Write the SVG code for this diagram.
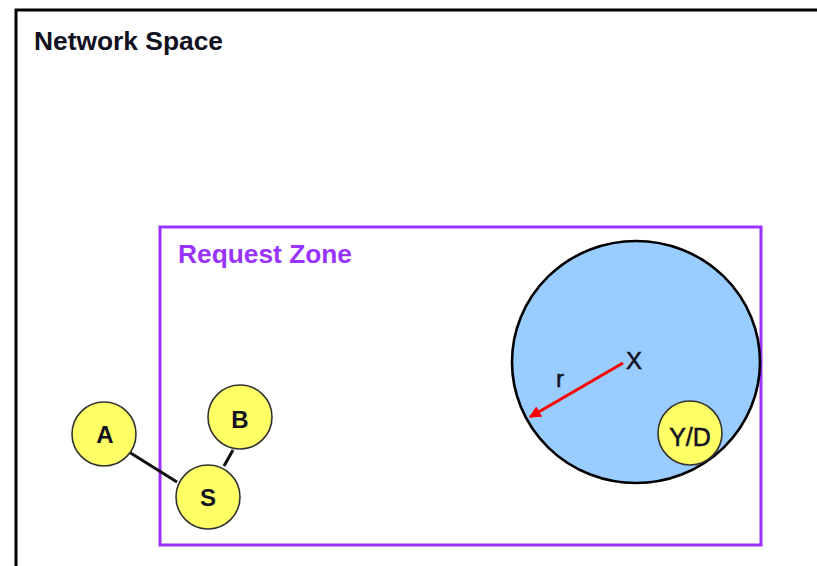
<svg xmlns="http://www.w3.org/2000/svg" width="817" height="566" viewBox="0 0 817 566">
<style>
.title{font-family:"Liberation Sans",Arial,sans-serif;font-weight:bold;font-size:25px}
.node circle{fill:#FFFF66;stroke:#333;stroke-width:1.6}
.node text{font-family:"Liberation Sans",Arial,sans-serif;font-weight:bold;font-size:24px;fill:#111122;text-anchor:middle}
.lbl{font-family:"Liberation Sans",Arial,sans-serif;font-size:24px;fill:#111122;stroke:#111122;stroke-width:0.5}
.edge{stroke:#111;stroke-width:3;fill:none}
</style>
<defs>
<marker id="ah" viewBox="0 0 10 10" refX="9" refY="5" markerWidth="4" markerHeight="4" orient="auto" markerUnits="strokeWidth">
<path d="M0,0 L10,5 L0,10 z" fill="#FF0000"/>
</marker>
</defs>
<rect width="817" height="566" fill="#fff"/>
<g id="network-space">
<rect x="16" y="10" width="830" height="600" fill="none" stroke="#000" stroke-width="3"/>
<text class="title" x="34" y="50" fill="#111122" textLength="189" lengthAdjust="spacingAndGlyphs">Network Space</text>
</g>
<g id="request-zone">
<rect x="160" y="227" width="601" height="318" fill="none" stroke="#9933FF" stroke-width="3"/>
<text class="title" x="178" y="263" fill="#9933FF" textLength="174" lengthAdjust="spacingAndGlyphs">Request Zone</text>
</g>
<g id="range-X">
<ellipse cx="636" cy="362" rx="124" ry="121" fill="#99CCFF" stroke="#000" stroke-width="2.6"/>
<text class="lbl" x="634" y="369" text-anchor="middle">X</text>
<text class="lbl" x="560" y="387" text-anchor="middle">r</text>
</g>
<g id="connectors">
<line class="edge" x1="129" y1="452" x2="177" y2="482"/>
<line class="edge" x1="233" y1="450" x2="224" y2="466"/>
<line x1="623" y1="363" x2="530" y2="417" stroke="#FF0000" stroke-width="3" marker-end="url(#ah)"/>
</g>
<g id="node-A" class="node"><circle cx="104" cy="434" r="32"/><text x="105" y="443">A</text></g>
<g id="node-B" class="node"><circle cx="240" cy="417" r="32"/><text x="240" y="428">B</text></g>
<g id="node-S" class="node"><circle cx="208" cy="497" r="32"/><text x="208" y="506">S</text></g>
<g id="node-YD" class="node"><circle cx="690" cy="433" r="32"/><text x="690" y="446" style="font-weight:normal;font-size:25px;stroke:#111122;stroke-width:0.5">Y/D</text></g>
</svg>
